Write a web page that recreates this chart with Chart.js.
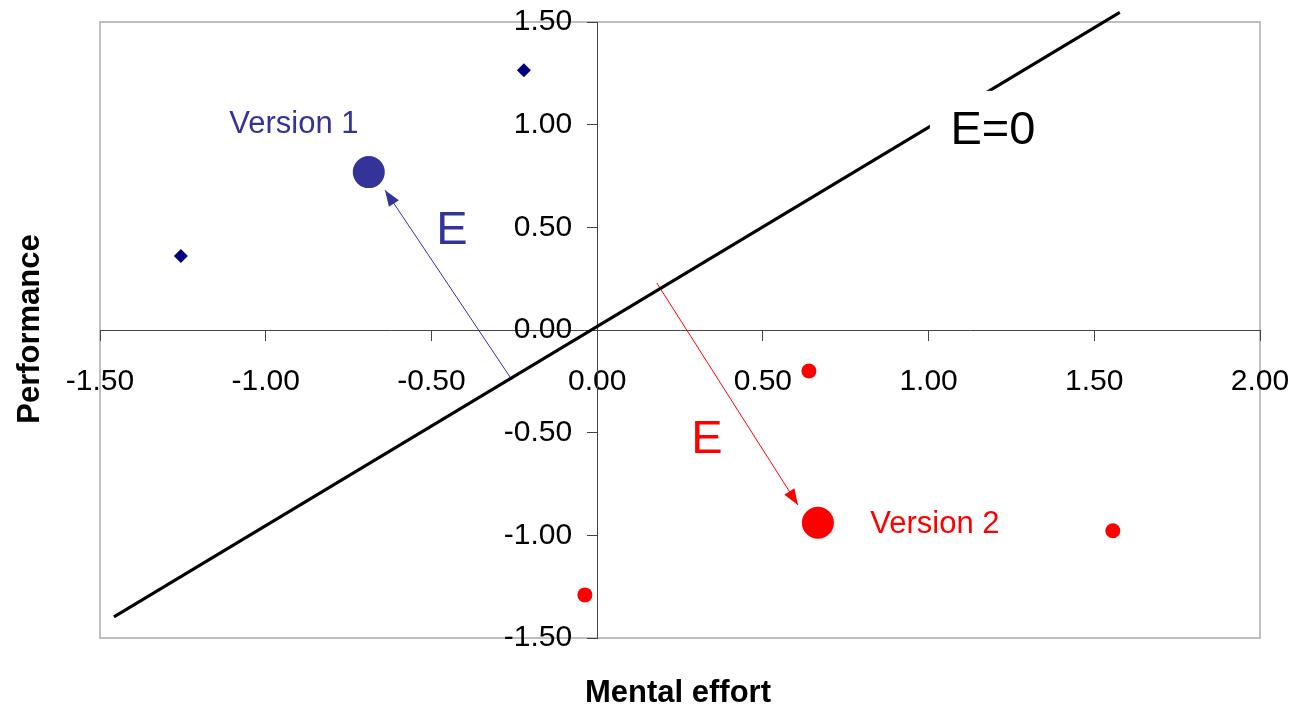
<!DOCTYPE html>
<html>
<head>
<meta charset="utf-8">
<script src="https://cdn.jsdelivr.net/npm/chart.js@4"></script>
<style>
  html, body { margin: 0; padding: 0; background: #fff; }
</style>
</head>
<body>
<canvas id="chart" width="1297" height="709"></canvas>
<script>
// subjects, version 1 (diamonds) and version 2 (dots)
const v1X = [-1.256, -0.221];
const v1Y = [0.36, 1.265];
const v2X = [-0.037, 0.639, 1.556];
const v2Y = [-1.29, -0.20, -0.978];

// group means
const v1MeanX = [-0.689];
const v1MeanY = [0.769];
const v2MeanX = [0.666];
const v2MeanY = [-0.939];

// E=0 line
const zeroX = [-1.458, 1.577];
const zeroY = [-1.397, 1.547];

// E arrows, from the E=0 line towards the means
const arrow1X = [-0.257, -0.640];
const arrow1Y = [-0.243, 0.681];
const arrow2X = [0.180, 0.606];
const arrow2Y = [0.229, -0.852];

const xMin = -1.5, xMax = 2.0, yMin = -1.5, yMax = 1.5, tickStep = 0.5;

// text notes placed in data coordinates
const notes = [
  { text: 'Version 1', x: -0.915, y: 1.0, color: '#333399', size: 31 },
  { text: 'E', x: -0.438, y: 0.482, color: '#333399', size: 47 },
  { text: 'E', x: 0.331, y: -0.535, color: '#ff0000', size: 47 },
  { text: 'Version 2', x: 1.019, y: -0.945, color: '#ff0000', size: 31 },
  { text: 'E=0', x: 1.194, y: 0.97, color: '#000000', size: 47, box: true },
];

const FONT = '"Liberation Sans", Arial, sans-serif';

function pts(xs, ys) {
  return xs.map((x, i) => ({ x: x, y: ys[i] }));
}

const decor = {
  id: 'decor',
  beforeDraw(chart) {
    const a = chart.chartArea;
    const ctx = chart.ctx;
    ctx.save();
    ctx.strokeStyle = '#c0c0c0';
    ctx.lineWidth = 2;
    ctx.strokeRect(a.left, a.top, a.right - a.left, a.bottom - a.top);
    ctx.restore();
  },
  afterDatasetsDraw(chart) {
    const ctx = chart.ctx;
    const xs = chart.scales.x, ys = chart.scales.y;
    ctx.save();
    // arrow heads at the end of each arrow dataset
    chart.data.datasets.forEach((ds, i) => {
      if (!ds.arrow) return;
      const p = chart.getDatasetMeta(i).data;
      const a = p[p.length - 2], b = p[p.length - 1];
      const ang = Math.atan2(b.y - a.y, b.x - a.x);
      const len = 16, half = 6;
      ctx.fillStyle = ds.borderColor;
      ctx.beginPath();
      ctx.moveTo(b.x, b.y);
      ctx.lineTo(b.x - len * Math.cos(ang) + half * Math.sin(ang), b.y - len * Math.sin(ang) - half * Math.cos(ang));
      ctx.lineTo(b.x - len * Math.cos(ang) - half * Math.sin(ang), b.y - len * Math.sin(ang) + half * Math.cos(ang));
      ctx.closePath();
      ctx.fill();
    });
    // notes
    notes.forEach(n => {
      const px = xs.getPixelForValue(n.x);
      const py = ys.getPixelForValue(n.y);
      ctx.font = n.size + 'px ' + FONT;
      ctx.textAlign = 'center';
      ctx.textBaseline = 'middle';
      if (n.box) {
        ctx.fillStyle = '#ffffff';
        ctx.fillRect(px - 63, py - 40, 126, 80);
      }
      ctx.fillStyle = n.color;
      ctx.fillText(n.text, px, py);
    });
    ctx.restore();
  },
  afterDraw(chart) {
    const ctx = chart.ctx;
    ctx.save();
    ctx.fillStyle = '#000';
    ctx.font = 'bold 31px ' + FONT;
    ctx.textAlign = 'center';
    ctx.textBaseline = 'middle';
    ctx.fillText('Mental effort', 678, 693);
    ctx.translate(30, 329);
    ctx.rotate(-Math.PI / 2);
    ctx.fillText('Performance', 0, 0);
    ctx.restore();
  }
};

const tickFont = { family: FONT, size: 30 };

// keep the centred axes from shrinking the plot area
function noPadding(scale) {
  scale.paddingLeft = 0;
  scale.paddingRight = 0;
  scale.paddingTop = 0;
  scale.paddingBottom = 0;
}

new Chart(document.getElementById('chart'), {
  type: 'scatter',
  plugins: [decor],
  data: {
    datasets: [
      {
        label: 'E=0',
        data: pts(zeroX, zeroY),
        showLine: true,
        borderColor: '#000000',
        borderWidth: 3,
        pointRadius: 0,
        clip: false
      },
      {
        label: 'E version 1',
        data: pts(arrow1X, arrow1Y),
        showLine: true,
        borderColor: '#333399',
        borderWidth: 1,
        pointRadius: 0,
        arrow: true
      },
      {
        label: 'E version 2',
        data: pts(arrow2X, arrow2Y),
        showLine: true,
        borderColor: '#ff0000',
        borderWidth: 1,
        pointRadius: 0,
        arrow: true
      },
      {
        label: 'Version 1',
        data: pts(v1X, v1Y),
        pointStyle: 'rectRot',
        pointRadius: 7,
        backgroundColor: '#000080',
        borderColor: '#000080',
        borderWidth: 0
      },
      {
        label: 'Version 2',
        data: pts(v2X, v2Y),
        pointStyle: 'circle',
        pointRadius: 7.5,
        backgroundColor: '#ff0000',
        borderColor: '#ff0000',
        borderWidth: 0
      },
      {
        label: 'Mean version 1',
        data: pts(v1MeanX, v1MeanY),
        pointRadius: 16,
        backgroundColor: '#333399',
        borderColor: '#333399',
        borderWidth: 0
      },
      {
        label: 'Mean version 2',
        data: pts(v2MeanX, v2MeanY),
        pointRadius: 16,
        backgroundColor: '#ff0000',
        borderColor: '#ff0000',
        borderWidth: 0
      }
    ]
  },
  options: {
    responsive: false,
    animation: false,
    layout: { autoPadding: false, padding: { left: 100, right: 37, top: 22, bottom: 71 } },
    plugins: {
      legend: { display: false },
      tooltip: { enabled: false }
    },
    scales: {
      x: {
        type: 'linear',
        min: xMin,
        max: xMax,
        position: { y: 0 },
        afterFit: noPadding,
        ticks: {
          stepSize: tickStep,
          callback: v => v.toFixed(2),
          font: tickFont,
          color: '#000',
          padding: 24,
          maxRotation: 0,
          autoSkip: false
        },
        grid: { drawOnChartArea: false, tickLength: 10, color: '#444' },
        border: { color: '#444', width: 1 }
      },
      y: {
        type: 'linear',
        min: yMin,
        max: yMax,
        position: { x: 0 },
        afterFit: noPadding,
        ticks: {
          stepSize: tickStep,
          // the centred axis puts labels right on the axis line, so pad with spaces
          callback: v => v.toFixed(2) + '   ',
          font: tickFont,
          color: '#000',
          padding: 0,
          autoSkip: false
        },
        grid: { drawOnChartArea: false, tickLength: 10, color: '#444' },
        border: { color: '#444', width: 1 }
      }
    }
  }
});
</script>
</body>
</html>
